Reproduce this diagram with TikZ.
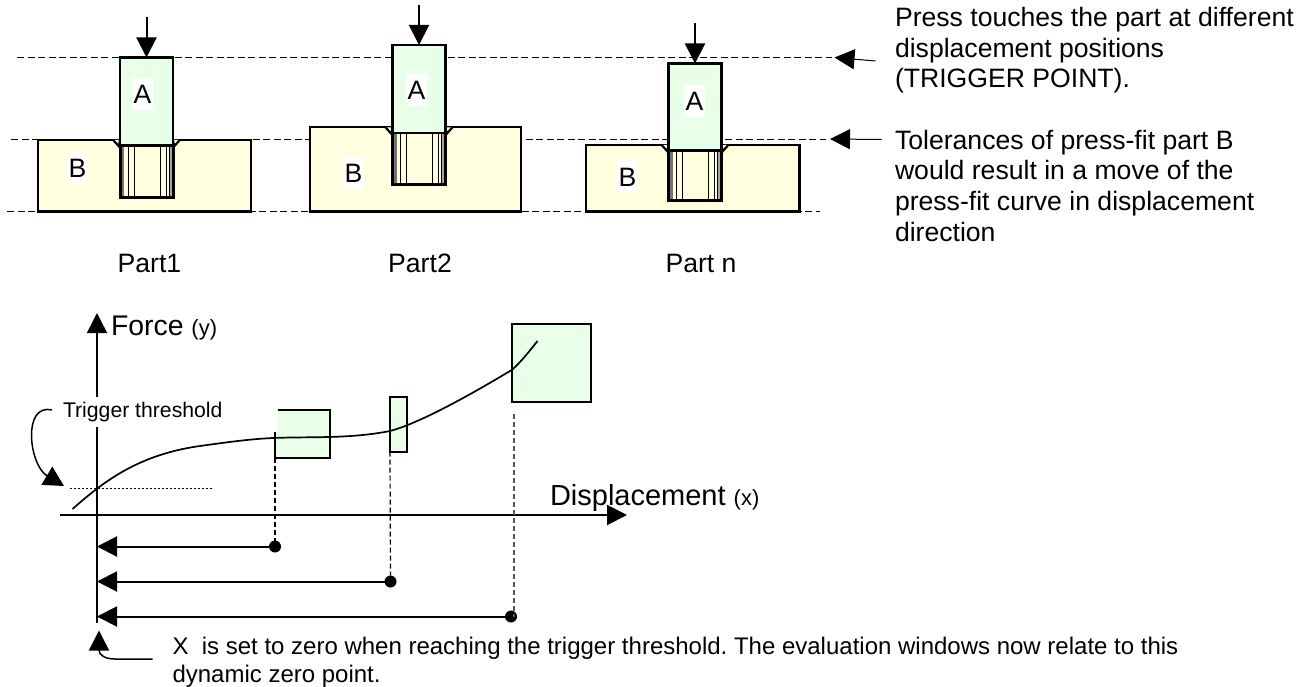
\documentclass[tikz,border=0pt]{standalone}
\usepackage{fontspec}
\usepackage{xcolor}
\usepackage{tikz}
\usetikzlibrary{arrows.meta}
\setmainfont{Liberation Sans}
\frenchspacing
\definecolor{pinfill}{HTML}{E8FFE8}
\definecolor{blockfill}{HTML}{FFFFE0}
\newcommand{\fsize}[2]{\fontsize{#1}{#2}\selectfont}

\begin{document}
\begin{tikzpicture}[
  x=1pt, y=-1pt,
  every node/.style={inner sep=0pt, outer sep=0pt, font=\fsize{26.6}{30.6}},
  pressarrow/.style={-{Triangle[length=20pt,width=20pt]}, line width=2pt},
  guide/.style={dash pattern=on 7pt off 3.5pt, line width=1.1pt, black},
  block/.style={draw, line width=2.4pt, fill=blockfill, anchor=north west},
  pin/.style={draw, line width=2.4pt, fill=pinfill, anchor=north west,
    minimum width=53pt},
  window/.style={draw, line width=2pt, fill=pinfill, anchor=north west},
  letter/.style={fill=white, minimum width=21pt, minimum height=32pt},
  dot/.style={circle, fill=black, minimum size=12pt},
  drop/.style={dash pattern=on 5pt off 3pt, line width=1.2pt, black}
]
  \useasboundingbox (0,0) rectangle (1314,687);

  % level lines
  \draw[guide] (17,57.5) -- (832,57.5);
  \draw[guide] (11,139.5) -- (826,139.5);
  \draw[guide] (7,211.5) -- (820,211.5);

  % part number / pin left / pin top / pin height / block left / block right / pin depth / letters
  \foreach \n/\ax/\at/\ah/\bl/\br/\hd/\alx/\aly/\blx/\bly in {
    1/120/57.5/88/38/251/52/142.5/94/77.5/168,
    2/392.5/45/88/310/521/52/416.5/90/353.5/173,
    3/668.5/63.5/87/586/799.5/50/694.5/101/627.5/177} {
    \node[block, minimum width=(\br-\bl)*1pt, minimum height=(211.5-\at-\ah+5.7)*1pt]
      (b\n) at (\bl,\at+\ah-5.7) {};
    % threaded bore
    \fill[black!55] (\ax,\at+\ah) rectangle (\ax+4,\at+\ah+\hd);
    \fill[black!35] (\ax+49,\at+\ah) rectangle (\ax+53,\at+\ah+\hd);
    \foreach \t in {8,14,40,46,49}
      \draw[line width=1pt] (\ax+\t,\at+\ah) -- (\ax+\t,\at+\ah+\hd);
    \draw[line width=2.2pt, fill=white] (\ax-7,\at+\ah-5.7) -- (\ax-1,\at+\ah+1) -- (\ax,\at+\ah-5.7);
    \draw[line width=2.2pt, fill=white] (\ax+60,\at+\ah-5.7) -- (\ax+54,\at+\ah+1) -- (\ax+53,\at+\ah-5.7);
    \draw[line width=3pt] (\ax,\at+\ah) -- (\ax,\at+\ah+\hd) -- (\ax+53,\at+\ah+\hd) -- (\ax+53,\at+\ah);
    \node[pin, minimum height=\ah*1pt] (a\n) at (\ax,\at) {};
    \node[letter] (la\n) at (\alx,\aly) {A};
    \node[letter] (lb\n) at (\blx,\bly) {B};
    \coordinate (p\n) at (\ax+26.5,\at-40);
    \draw[pressarrow] (p\n) -- (a\n.north);
  }

  \node[anchor=base] (part1) at (149.5,272.5) {Part1};
  \node[anchor=base] (part2) at (420,272.5) {Part2};
  \node[anchor=base] (part3) at (701,272.5) {Part n};

  % notes on the right
  \node[anchor=north west, align=left] (touch) at (895,7.5)
    {Press touches the part at different\\displacement positions\\(TRIGGER POINT).};
  \node[anchor=north west, align=left] (toler) at (895,130)
    {Tolerances of press-fit part B\\would result in a move of the\\press-fit curve in displacement\\direction};
  \coordinate (touchend) at (875.5,61);
  \coordinate (touchtip) at (834.5,57.5);
  \coordinate (tolerend) at (881.5,139.5);
  \coordinate (tolertip) at (830,139);
  \draw[pressarrow, line width=1pt] (touchend) -- (touchtip);
  \draw[pressarrow, line width=1pt] (tolerend) -- (tolertip);

  % axes
  \coordinate (ybase) at (97,622.5);
  \coordinate (ytip) at (97,313);
  \coordinate (xbase) at (60,515);
  \coordinate (xtip) at (627,515);
  \draw[pressarrow, line width=1.5pt] (ybase) -- (ytip);
  \draw[pressarrow] (xbase) -- (xtip);
  \node[anchor=base west, font=\fsize{28.4}{32}] (force) at (111,335)
    {Force \fsize{22}{25}(y)};
  \node[anchor=base west, font=\fsize{29}{33}] (disp) at (550,505)
    {Displacement \fsize{22}{25}(x)};

  % evaluation windows
  \fill[pinfill] (278,410) rectangle (330,458);
  \fill[pinfill] (275,432) rectangle (278,458);
  \coordinate (wina) at (275,458);
  \draw[line width=2pt] (278,410) -- (330,410) -- (330,458) -- (wina) -- (275,432);
  \node[window, minimum width=16.5pt, minimum height=54.5pt] (winb) at (390,397) {};
  \node[window, minimum width=79pt, minimum height=77.5pt] (winc) at (511.5,324) {};

  % press-fit curve
  \draw[line width=1.7pt] (72.5,509) .. controls (100,485) and (135,455) .. (200,446)
    .. controls (225,442.5) and (250,439) .. (273,438)
    .. controls (310,436.5) and (350,439) .. (390,431)
    .. controls (420,423) and (470,395) .. (511.7,370)
    .. controls (520,363) and (528,353) .. (537.5,341);

  \node[fill=white, anchor=base west, font=\fsize{21.2}{24}, inner ysep=5pt] (trig) at (63,417.5)
    {Trigger threshold};
  \coordinate (dotsa) at (70,488);
  \coordinate (dotsb) at (212,488);
  \draw[line width=1pt, dash pattern=on 2pt off 2pt] (dotsa) -- (dotsb);
  \coordinate (trigstart) at (52,410);
  \coordinate (trigtip) at (64,486);
  \draw[line width=1.5pt, -{Triangle[length=20pt,width=21pt]}]
    (trigstart) .. controls (22,403) and (29,465) .. (trigtip);

  % offsets from the dynamic zero
  \node[dot] (dota) at (275,546.5) {};
  \node[dot] (dotb) at (390.5,581.5) {};
  \node[dot] (dotc) at (511,616.5) {};
  \coordinate (dropc) at (514,414);
  \draw[drop] (wina) -- (dota);
  \draw[drop] (winb.south west) -- (dotb);
  \draw[drop, black!65] (dropc) -- (dropc |- dotc);
  \draw[pressarrow] (dota) -- (dota -| ybase);
  \draw[pressarrow] (dotb) -- (dotb -| ybase);
  \draw[pressarrow] (dotc) -- (dotc -| ybase);

  % zero point note
  \node[anchor=north west, align=left, font=\fsize{24}{27.7}] (zero) at (172.5,637.5)
    {X\ \ is set to zero when reaching the trigger threshold. The evaluation windows now relate to this\\dynamic zero point.};
  \coordinate (zerostart) at (152.5,659);
  \coordinate (zerotip) at (99,630.5);
  \draw[line width=1.5pt, -{Triangle[length=20pt,width=20pt]}]
    (zerostart) -- (115,659) .. controls (105,659) and (99,655) .. (zerotip);
\end{tikzpicture}
\end{document}
